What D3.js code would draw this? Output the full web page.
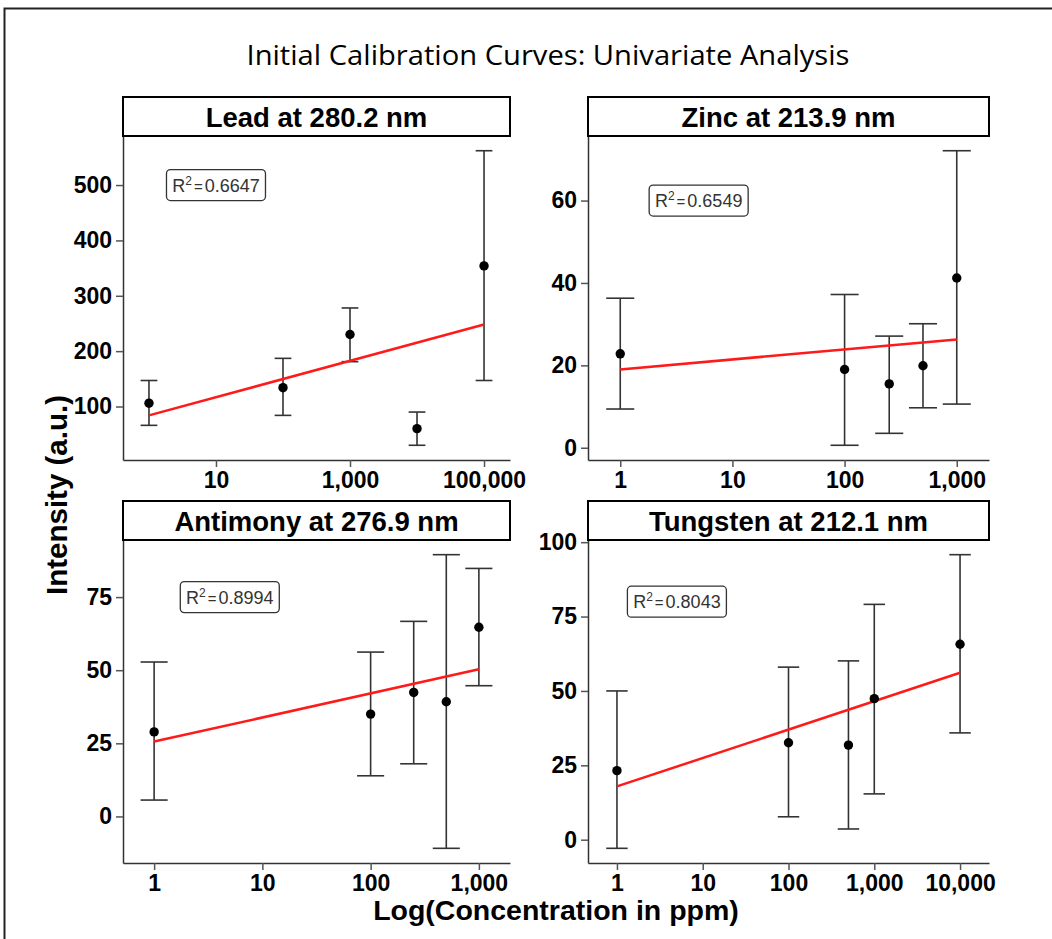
<!doctype html>
<html>
<head>
<meta charset="utf-8"/>
<script src="https://cdnjs.cloudflare.com/ajax/libs/d3/7.8.5/d3.min.js"></script>
<style>
  body { margin: 0; background: #fff; }
  text { font-family: "Liberation Sans", Arial, sans-serif; }
  .tick text { font-size: 23px; font-weight: bold; fill: #000; }
  .tick line { stroke: #555; stroke-width: 1.5px; }
  .domain { stroke: #333; stroke-width: 1.5px; }
  .errbar { stroke: #333; stroke-width: 1.6px; fill: none; }
  .fit { stroke: #ff1a1a; stroke-width: 2.5px; fill: none; }
  .strip { fill: #fff; stroke: #000; stroke-width: 2px; }
</style>
</head>
<body>
<svg width="1052" height="939"></svg>
<script>
// ---- data ----
var leadConc = [1, 100, 1000, 10000, 100000];
var leadMean = [106, 134, 230, 60, 354];
var leadLow  = [66, 84, 181, 30, 147];
var leadHigh = [147, 187, 278, 90, 562];
var leadFitX = [1, 100000];
var leadFitY = [84, 248];
var leadR2 = "0.6647";
var leadLabelAt = [10, 500];
var leadXTicks = [10, 1000, 100000];
var leadYTicks = [100, 200, 300, 400, 500];

var zincConc = [1, 100, 250, 500, 1000];
var zincMean = [22.8, 19.0, 15.5, 19.9, 41.2];
var zincLow  = [9.4, 0.6, 3.5, 9.7, 10.6];
var zincHigh = [36.3, 37.2, 27.1, 30.1, 72.1];
var zincFitX = [1, 1000];
var zincFitY = [19.0, 26.3];
var zincR2 = "0.6549";
var zincLabelAt = [5, 60];
var zincXTicks = [1, 10, 100, 1000];
var zincYTicks = [0, 20, 40, 60];

var antimonyConc = [1, 100, 250, 500, 1000];
var antimonyMean = [28.9, 35.0, 42.4, 39.2, 64.7];
var antimonyLow  = [5.6, 13.9, 18.0, -10.9, 44.7];
var antimonyHigh = [52.8, 56.2, 66.7, 89.5, 84.8];
var antimonyFitX = [1, 1000];
var antimonyFitY = [25.6, 50.3];
var antimonyR2 = "0.8994";
var antimonyLabelAt = [5, 75];
var antimonyXTicks = [1, 10, 100, 1000];
var antimonyYTicks = [0, 25, 50, 75];

var tungstenConc = [1, 100, 500, 1000, 10000];
var tungstenMean = [23.2, 32.6, 31.8, 47.4, 65.7];
var tungstenLow  = [-2.9, 7.7, 3.6, 15.4, 35.9];
var tungstenHigh = [50.0, 58.0, 60.1, 79.1, 95.8];
var tungstenFitX = [1, 10000];
var tungstenFitY = [17.9, 56.1];
var tungstenR2 = "0.8043";
var tungstenLabelAt = [5, 80];
var tungstenXTicks = [1, 10, 100, 1000, 10000];
var tungstenYTicks = [0, 25, 50, 75, 100];

var panels = [
  {title: "Lead at 280.2 nm", conc: leadConc, mean: leadMean, lo: leadLow, hi: leadHigh,
   fitX: leadFitX, fitY: leadFitY, r2: leadR2, labelAt: leadLabelAt, xTicks: leadXTicks, yTicks: leadYTicks,
   left: 123, right: 510, top: 97, bottom: 460},
  {title: "Zinc at 213.9 nm", conc: zincConc, mean: zincMean, lo: zincLow, hi: zincHigh,
   fitX: zincFitX, fitY: zincFitY, r2: zincR2, labelAt: zincLabelAt, xTicks: zincXTicks, yTicks: zincYTicks,
   left: 588, right: 989, top: 97, bottom: 460},
  {title: "Antimony at 276.9 nm", conc: antimonyConc, mean: antimonyMean, lo: antimonyLow, hi: antimonyHigh,
   fitX: antimonyFitX, fitY: antimonyFitY, r2: antimonyR2, labelAt: antimonyLabelAt, xTicks: antimonyXTicks, yTicks: antimonyYTicks,
   left: 123, right: 510, top: 501, bottom: 863},
  {title: "Tungsten at 212.1 nm", conc: tungstenConc, mean: tungstenMean, lo: tungstenLow, hi: tungstenHigh,
   fitX: tungstenFitX, fitY: tungstenFitY, r2: tungstenR2, labelAt: tungstenLabelAt, xTicks: tungstenXTicks, yTicks: tungstenYTicks,
   left: 588, right: 989, top: 501, bottom: 863}
];

var svg = d3.select("svg");
svg.append("rect").attr("width", 1052).attr("height", 939).attr("fill", "#fff");

// frame lines (top and left)
svg.append("path").attr("d", "M4.5,939 V8.5 H1052")
  .attr("fill", "none").attr("stroke", "#222").attr("stroke-width", 2);

svg.append("text")
  .attr("x", 548).attr("y", 65)
  .attr("text-anchor", "middle")
  .attr("textLength", 603).attr("lengthAdjust", "spacingAndGlyphs")
  .style("font-family", "'Open Sans', 'Noto Sans', sans-serif")
  .style("font-size", "28px")
  .text("Initial Calibration Curves: Univariate Analysis");

var stripH = 39;
var capHalf = 0.125;   // error bar width, in log10 units
var fmt = d3.format(",");

panels.forEach(function(p) {
  var g = svg.append("g");
  var plotTop = p.top + stripH;

  var logs = p.conc.map(Math.log10);
  var lmin = d3.min(logs) - capHalf, lmax = d3.max(logs) + capHalf;
  var lpad = (lmax - lmin) * 0.05;
  var x = d3.scaleLog()
    .domain([Math.pow(10, lmin - lpad), Math.pow(10, lmax + lpad)])
    .range([p.left, p.right]);

  var ymin = d3.min(p.lo), ymax = d3.max(p.hi);
  var ypad = (ymax - ymin) * 0.05;
  var y = d3.scaleLinear()
    .domain([ymin - ypad, ymax + ypad])
    .range([p.bottom, plotTop]);

  // axes
  g.append("g")
    .attr("transform", "translate(0," + p.bottom + ")")
    .call(d3.axisBottom(x).tickValues(p.xTicks).tickFormat(fmt).tickSize(7).tickSizeOuter(0).tickPadding(5));
  g.append("g")
    .attr("transform", "translate(" + p.left + ",0)")
    .call(d3.axisLeft(y).tickValues(p.yTicks).tickSize(7).tickSizeOuter(0).tickPadding(4));

  // strip
  g.append("rect").attr("class", "strip")
    .attr("x", p.left).attr("y", p.top)
    .attr("width", p.right - p.left).attr("height", stripH);
  g.append("text")
    .attr("x", (p.left + p.right) / 2).attr("y", p.top + 30)
    .attr("text-anchor", "middle")
    .style("font-size", "27.5px").style("font-weight", "bold")
    .text(p.title);

  var rows = p.conc.map(function(c, i) {
    return {c: c, m: p.mean[i], lo: p.lo[i], hi: p.hi[i]};
  });

  // error bars
  var eb = g.selectAll(".eb").data(rows).enter().append("g").attr("class", "errbar");
  eb.append("line")
    .attr("x1", function(d) { return x(d.c); }).attr("x2", function(d) { return x(d.c); })
    .attr("y1", function(d) { return y(d.lo); }).attr("y2", function(d) { return y(d.hi); });
  eb.append("line")
    .attr("x1", function(d) { return x(d.c * Math.pow(10, -capHalf)); })
    .attr("x2", function(d) { return x(d.c * Math.pow(10, capHalf)); })
    .attr("y1", function(d) { return y(d.lo); }).attr("y2", function(d) { return y(d.lo); });
  eb.append("line")
    .attr("x1", function(d) { return x(d.c * Math.pow(10, -capHalf)); })
    .attr("x2", function(d) { return x(d.c * Math.pow(10, capHalf)); })
    .attr("y1", function(d) { return y(d.hi); }).attr("y2", function(d) { return y(d.hi); });

  // fit line
  var line = d3.line().x(function(d) { return x(d[0]); }).y(function(d) { return y(d[1]); });
  g.append("path").attr("class", "fit").attr("d", line(d3.zip(p.fitX, p.fitY)));

  // points
  g.selectAll(".pt").data(rows).enter().append("circle")
    .attr("cx", function(d) { return x(d.c); })
    .attr("cy", function(d) { return y(d.m); })
    .attr("r", 4.7).attr("fill", "#000");

  // R^2 label
  var lx = x(p.labelAt[0]), ly = y(p.labelAt[1]);
  var lab = g.append("g");
  var t = lab.append("text")
    .attr("x", lx).attr("y", ly + 6.5)
    .attr("text-anchor", "middle")
    .style("font-size", "18px").style("fill", "#333");
  t.append("tspan").text("R");
  t.append("tspan").attr("dy", -7).style("font-size", "12px").text("2");
  t.append("tspan").attr("dy", 7).attr("dx", 2).style("font-size", "15px").text("=");
  t.append("tspan").attr("dx", 2).text(p.r2);
  var bb = t.node().getBBox();
  lab.insert("rect", "text")
    .attr("x", lx - 49.5).attr("y", ly - 15.5)
    .attr("width", 99).attr("height", 31)
    .attr("rx", 4).attr("fill", "#fff").attr("stroke", "#333").attr("stroke-width", 1.3);
  t.attr("x", lx + (0 - (bb.x + bb.width / 2 - lx)) * 0 ); // keep centred
});

// shared axis titles
svg.append("text")
  .attr("x", 556).attr("y", 920)
  .attr("text-anchor", "middle")
  .style("font-size", "28.5px").style("font-weight", "bold")
  .text("Log(Concentration in ppm)");
svg.append("text")
  .attr("transform", "translate(67,495) rotate(-90)")
  .attr("text-anchor", "middle")
  .style("font-size", "29.5px").style("font-weight", "bold")
  .text("Intensity (a.u.)");
</script>
</body>
</html>
